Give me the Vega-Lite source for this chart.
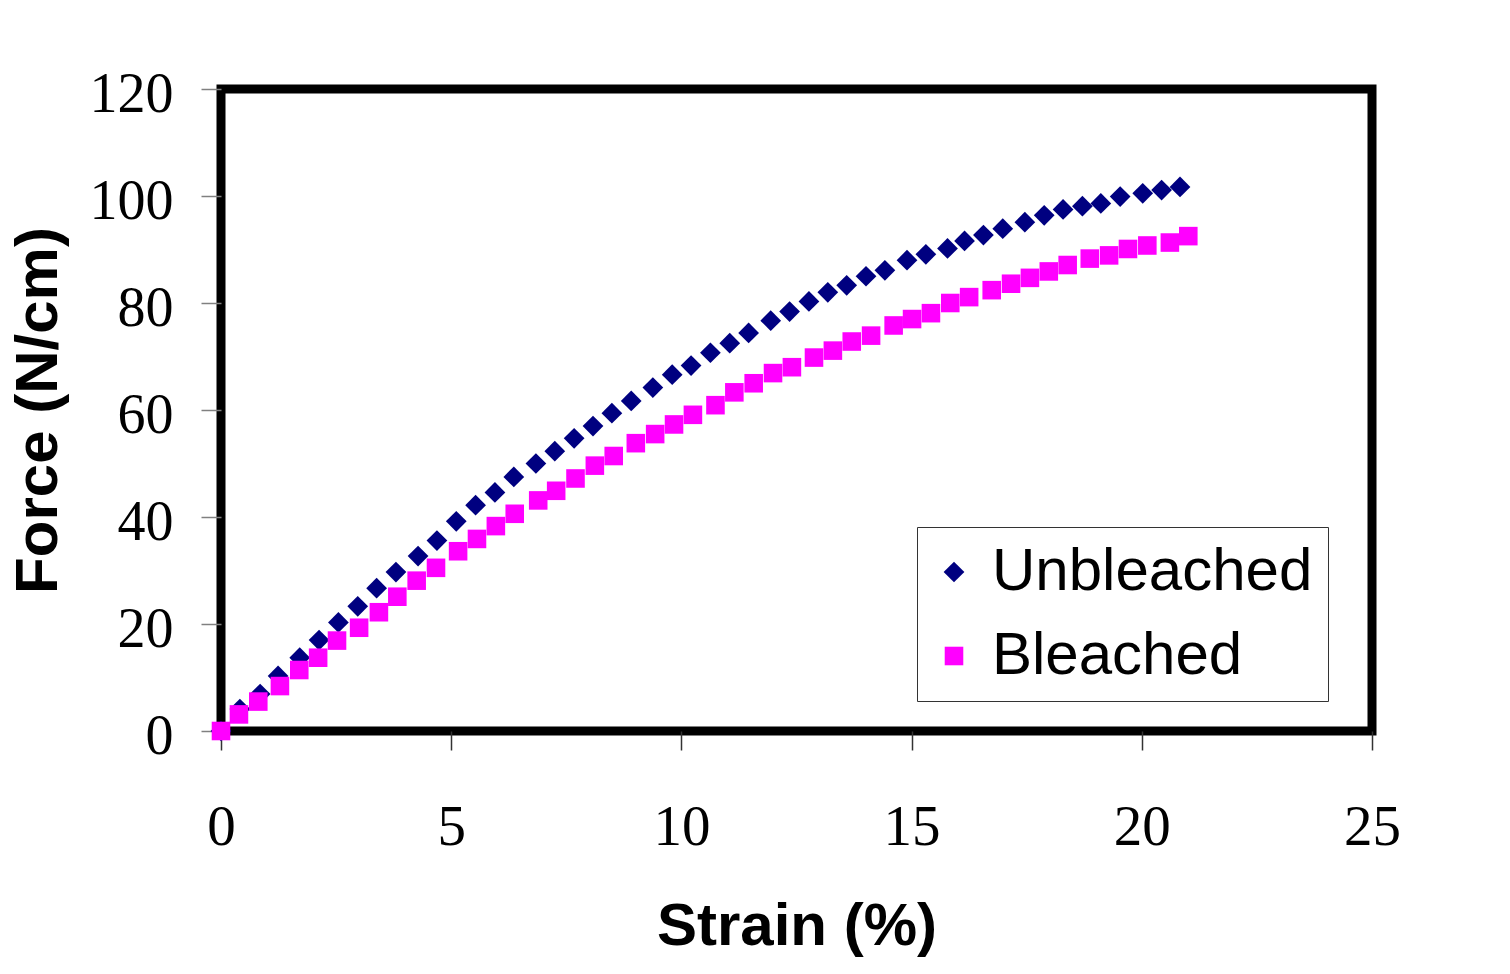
{
  "$schema": "https://vega.github.io/schema/vega-lite/v6.json",
  "autosize": "none",
  "width": 1151,
  "height": 642,
  "padding": {"left": 221, "top": 89, "right": 138, "bottom": 243},
  "background": "white",
  "config": {
    "view": {"stroke": "black", "strokeWidth": 9},
    "axis": {"grid": false, "domain": false}
  },
  "data": {
    "values": [
      {"s": "Unbleached", "x": 0, "y": 0},
      {"s": "Unbleached", "x": 0.41, "y": 4.1},
      {"s": "Unbleached", "x": 0.85, "y": 6.9},
      {"s": "Unbleached", "x": 1.24, "y": 10.3},
      {"s": "Unbleached", "x": 1.71, "y": 13.7},
      {"s": "Unbleached", "x": 2.13, "y": 17.0},
      {"s": "Unbleached", "x": 2.55, "y": 20.3},
      {"s": "Unbleached", "x": 2.97, "y": 23.3},
      {"s": "Unbleached", "x": 3.38, "y": 26.7},
      {"s": "Unbleached", "x": 3.80, "y": 29.7},
      {"s": "Unbleached", "x": 4.28, "y": 32.7},
      {"s": "Unbleached", "x": 4.69, "y": 35.6},
      {"s": "Unbleached", "x": 5.11, "y": 39.2},
      {"s": "Unbleached", "x": 5.53, "y": 42.2},
      {"s": "Unbleached", "x": 5.95, "y": 44.6},
      {"s": "Unbleached", "x": 6.36, "y": 47.5},
      {"s": "Unbleached", "x": 6.84, "y": 50.0},
      {"s": "Unbleached", "x": 7.25, "y": 52.3},
      {"s": "Unbleached", "x": 7.67, "y": 54.7},
      {"s": "Unbleached", "x": 8.08, "y": 57.0},
      {"s": "Unbleached", "x": 8.49, "y": 59.4},
      {"s": "Unbleached", "x": 8.91, "y": 61.7},
      {"s": "Unbleached", "x": 9.38, "y": 64.2},
      {"s": "Unbleached", "x": 9.80, "y": 66.6},
      {"s": "Unbleached", "x": 10.21, "y": 68.3},
      {"s": "Unbleached", "x": 10.63, "y": 70.7},
      {"s": "Unbleached", "x": 11.05, "y": 72.5},
      {"s": "Unbleached", "x": 11.46, "y": 74.4},
      {"s": "Unbleached", "x": 11.94, "y": 76.7},
      {"s": "Unbleached", "x": 12.35, "y": 78.4},
      {"s": "Unbleached", "x": 12.77, "y": 80.3},
      {"s": "Unbleached", "x": 13.18, "y": 82.0},
      {"s": "Unbleached", "x": 13.59, "y": 83.3},
      {"s": "Unbleached", "x": 14.01, "y": 85.0},
      {"s": "Unbleached", "x": 14.42, "y": 86.1},
      {"s": "Unbleached", "x": 14.90, "y": 88.0},
      {"s": "Unbleached", "x": 15.31, "y": 89.1},
      {"s": "Unbleached", "x": 15.78, "y": 90.2},
      {"s": "Unbleached", "x": 16.15, "y": 91.6},
      {"s": "Unbleached", "x": 16.56, "y": 92.7},
      {"s": "Unbleached", "x": 16.98, "y": 93.9},
      {"s": "Unbleached", "x": 17.46, "y": 95.1},
      {"s": "Unbleached", "x": 17.88, "y": 96.4},
      {"s": "Unbleached", "x": 18.29, "y": 97.5},
      {"s": "Unbleached", "x": 18.71, "y": 98.1},
      {"s": "Unbleached", "x": 19.11, "y": 98.6},
      {"s": "Unbleached", "x": 19.53, "y": 99.9},
      {"s": "Unbleached", "x": 20.02, "y": 100.5},
      {"s": "Unbleached", "x": 20.43, "y": 101.1},
      {"s": "Unbleached", "x": 20.83, "y": 101.7},
      {"s": "Bleached", "x": 0, "y": 0},
      {"s": "Bleached", "x": 0.39, "y": 3.1},
      {"s": "Bleached", "x": 0.81, "y": 5.5},
      {"s": "Bleached", "x": 1.28, "y": 8.4},
      {"s": "Bleached", "x": 1.70, "y": 11.4},
      {"s": "Bleached", "x": 2.11, "y": 13.7},
      {"s": "Bleached", "x": 2.52, "y": 16.9},
      {"s": "Bleached", "x": 3.00, "y": 19.3},
      {"s": "Bleached", "x": 3.43, "y": 22.2},
      {"s": "Bleached", "x": 3.83, "y": 25.1},
      {"s": "Bleached", "x": 4.25, "y": 28.1},
      {"s": "Bleached", "x": 4.67, "y": 30.5},
      {"s": "Bleached", "x": 5.15, "y": 33.6},
      {"s": "Bleached", "x": 5.56, "y": 35.9},
      {"s": "Bleached", "x": 5.97, "y": 38.3},
      {"s": "Bleached", "x": 6.38, "y": 40.6},
      {"s": "Bleached", "x": 6.89, "y": 43.1},
      {"s": "Bleached", "x": 7.28, "y": 44.9},
      {"s": "Bleached", "x": 7.70, "y": 47.2},
      {"s": "Bleached", "x": 8.12, "y": 49.6},
      {"s": "Bleached", "x": 8.53, "y": 51.4},
      {"s": "Bleached", "x": 9.01, "y": 53.8},
      {"s": "Bleached", "x": 9.43, "y": 55.5},
      {"s": "Bleached", "x": 9.84, "y": 57.3},
      {"s": "Bleached", "x": 10.25, "y": 59.1},
      {"s": "Bleached", "x": 10.74, "y": 60.9},
      {"s": "Bleached", "x": 11.15, "y": 63.3},
      {"s": "Bleached", "x": 11.57, "y": 65.0},
      {"s": "Bleached", "x": 11.99, "y": 66.9},
      {"s": "Bleached", "x": 12.40, "y": 68.0},
      {"s": "Bleached", "x": 12.88, "y": 69.8},
      {"s": "Bleached", "x": 13.29, "y": 71.1},
      {"s": "Bleached", "x": 13.70, "y": 72.8},
      {"s": "Bleached", "x": 14.12, "y": 73.9},
      {"s": "Bleached", "x": 14.61, "y": 75.8},
      {"s": "Bleached", "x": 15.01, "y": 77.0},
      {"s": "Bleached", "x": 15.42, "y": 78.1},
      {"s": "Bleached", "x": 15.84, "y": 80.0},
      {"s": "Bleached", "x": 16.25, "y": 81.1},
      {"s": "Bleached", "x": 16.74, "y": 82.4},
      {"s": "Bleached", "x": 17.16, "y": 83.6},
      {"s": "Bleached", "x": 17.57, "y": 84.7},
      {"s": "Bleached", "x": 17.98, "y": 85.9},
      {"s": "Bleached", "x": 18.39, "y": 87.1},
      {"s": "Bleached", "x": 18.87, "y": 88.3},
      {"s": "Bleached", "x": 19.29, "y": 88.9},
      {"s": "Bleached", "x": 19.70, "y": 90.1},
      {"s": "Bleached", "x": 20.12, "y": 90.75},
      {"s": "Bleached", "x": 20.61, "y": 91.3},
      {"s": "Bleached", "x": 21.01, "y": 92.5}
    ]
  },
  "mark": {"type": "point", "filled": true, "opacity": 1, "clip": false},
  "encoding": {
    "x": {
      "field": "x", "type": "quantitative",
      "scale": {"domain": [0, 25], "nice": false, "zero": false},
      "axis": {
        "values": [0, 5, 10, 15, 20, 25],
        "title": "Strain (%)",
        "tickSize": 19, "tickColor": "#333333", "tickWidth": 1.5,
        "labelFont": "Liberation Serif", "labelFontSize": 57, "labelColor": "black",
        "labelPadding": 49, "labelFlush": false,
        "titleFont": "Liberation Sans", "titleFontSize": 60, "titleFontWeight": "bold",
        "titleColor": "black", "titlePadding": 42
      }
    },
    "y": {
      "field": "y", "type": "quantitative",
      "scale": {"domain": [0, 120], "nice": false},
      "axis": {
        "values": [0, 20, 40, 60, 80, 100, 120],
        "title": "Force (N/cm)",
        "tickSize": 20, "tickColor": "#808080", "tickWidth": 1.5,
        "labelFont": "Liberation Serif", "labelFontSize": 56, "labelColor": "black",
        "labelPadding": 28, "labelFlush": false, "labelOffset": 5,
        "titleFont": "Liberation Sans", "titleFontSize": 60, "titleFontWeight": "bold",
        "titleColor": "black", "titlePadding": 20
      }
    },
    "color": {
      "field": "s", "type": "nominal",
      "scale": {"domain": ["Unbleached", "Bleached"], "range": ["#000080", "#FF00FF"]},
      "legend": {
        "title": null, "orient": "none", "legendX": 696, "legendY": 438,
        "labelFont": "Liberation Sans", "labelFontSize": 60, "labelColor": "black",
        "labelLimit": 600, "labelOffset": 8, "rowPadding": 24,
        "padding": 15, "symbolOffset": -8,
        "strokeColor": "#333333", "fillColor": "white",
        "symbolStrokeWidth": 0,
        "encode": {
          "symbols": {
            "update": {
              "size": {"signal": "datum.value === 'Unbleached' ? 470 : 335"}
            }
          },
          "labels": {
            "update": {"dy": {"value": 2}}
          }
        }
      }
    },
    "shape": {
      "field": "s", "type": "nominal",
      "scale": {"domain": ["Unbleached", "Bleached"], "range": ["diamond", "square"]}
    },
    "size": {
      "field": "s", "type": "nominal",
      "scale": {"domain": ["Unbleached", "Bleached"], "range": [430, 345]}
    }
  }
}
